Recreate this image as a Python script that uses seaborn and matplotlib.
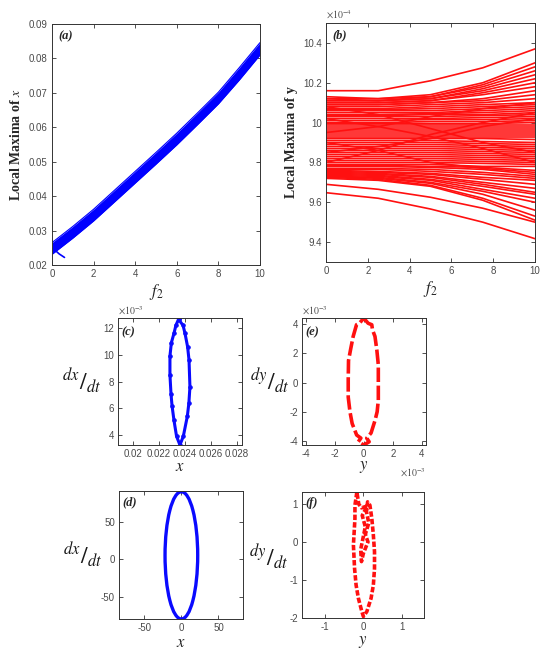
import numpy as np
import pandas as pd
import matplotlib
matplotlib.use("Agg")
import matplotlib.pyplot as plt
from matplotlib.patches import Ellipse
from matplotlib.ticker import FuncFormatter
import seaborn as sns

# (a) band of local maxima of x against f2
f2_a = [0, 1, 2, 3, 4, 5, 6, 7, 8, 9, 10]
a_upper = [0.0265, 0.0312, 0.0362, 0.0417, 0.0472, 0.0527, 0.0583, 0.0642, 0.0702, 0.0773, 0.0846]
a_lower = [0.0231, 0.0278, 0.0328, 0.0383, 0.0438, 0.0493, 0.0549, 0.0608, 0.0668, 0.0737, 0.0810]
a_tail_x = [0.05, 0.35, 0.6]
a_tail_y = [0.0248, 0.0232, 0.0222]

# (b) local maxima of y, one branch per position, read at f2 = 0, 2.5, 5, 7.5, 10 (units 1e-4)
f2_b = [0, 2.5, 5, 7.5, 10]
b_f0 = [10.16, 10.13, 10.12, 10.12, 10.11, 10.11, 10.10, 10.10, 10.09, 10.09,
        10.08, 10.07, 10.065, 10.06, 10.05, 10.04, 10.035, 10.03, 10.02, 10.01,
        10.00, 9.995, 9.99, 9.98, 9.97, 9.96, 9.95, 9.94, 9.93, 9.92,
        9.91, 9.90, 9.89, 9.88, 9.87, 9.86, 9.85, 9.84, 9.83, 9.82,
        9.81, 9.80, 9.79, 9.785, 9.78, 9.77, 9.765, 9.76, 9.755, 9.75,
        9.745, 9.74, 9.735, 9.73, 9.73, 9.725, 9.72, 9.69, 9.648,
        9.80, 10.08, 9.90, 9.95, 10.02, 9.85]
b_f25 = [10.16, 10.12, 10.12, 10.11, 10.11, 10.11, 10.10, 10.10, 10.09, 10.09,
         10.08, 10.07, 10.065, 10.06, 10.05, 10.04, 10.035, 10.03, 10.02, 10.01,
         10.00, 9.995, 9.99, 9.98, 9.97, 9.96, 9.95, 9.94, 9.93, 9.92,
         9.91, 9.90, 9.89, 9.88, 9.87, 9.86, 9.85, 9.84, 9.83, 9.82,
         9.81, 9.80, 9.79, 9.785, 9.78, 9.77, 9.765, 9.755, 9.75, 9.745,
         9.74, 9.735, 9.73, 9.725, 9.72, 9.715, 9.71, 9.665, 9.62,
         9.86, 10.04, 9.86, 9.98, 9.98, 9.88]
b_f5 = [10.21, 10.14, 10.13, 10.13, 10.12, 10.12, 10.11, 10.11, 10.10, 10.10,
        10.09, 10.08, 10.07, 10.06, 10.05, 10.045, 10.04, 10.03, 10.02, 10.015,
        10.005, 9.995, 9.99, 9.98, 9.97, 9.96, 9.95, 9.94, 9.93, 9.92,
        9.91, 9.90, 9.89, 9.88, 9.87, 9.86, 9.85, 9.84, 9.83, 9.82,
        9.81, 9.80, 9.79, 9.78, 9.775, 9.765, 9.755, 9.745, 9.74, 9.73,
        9.725, 9.715, 9.71, 9.70, 9.695, 9.685, 9.68, 9.625, 9.566,
        9.94, 9.97, 9.80, 10.03, 9.93, 9.92]
b_f75 = [10.275, 10.20, 10.19, 10.18, 10.17, 10.16, 10.15, 10.14, 10.12, 10.11,
         10.10, 10.09, 10.08, 10.07, 10.06, 10.05, 10.04, 10.035, 10.025, 10.015,
         10.005, 9.995, 9.99, 9.98, 9.97, 9.96, 9.95, 9.94, 9.93, 9.92,
         9.905, 9.895, 9.885, 9.875, 9.865, 9.855, 9.845, 9.835, 9.825, 9.815,
         9.805, 9.795, 9.78, 9.775, 9.765, 9.75, 9.74, 9.725, 9.715, 9.70,
         9.69, 9.68, 9.665, 9.655, 9.64, 9.62, 9.61, 9.57, 9.50,
         10.00, 9.90, 9.77, 10.07, 9.87, 9.98]
b_f10 = [10.37, 10.30, 10.28, 10.26, 10.24, 10.22, 10.20, 10.18, 10.16, 10.14,
         10.12, 10.10, 10.09, 10.08, 10.07, 10.06, 10.05, 10.04, 10.03, 10.02,
         10.01, 10.00, 9.99, 9.98, 9.97, 9.96, 9.95, 9.94, 9.93, 9.915,
         9.90, 9.89, 9.88, 9.87, 9.86, 9.85, 9.84, 9.83, 9.82, 9.81,
         9.80, 9.79, 9.78, 9.76, 9.74, 9.73, 9.72, 9.71, 9.69, 9.67,
         9.65, 9.64, 9.62, 9.60, 9.56, 9.53, 9.51, 9.50, 9.417,
         10.05, 9.85, 9.75, 10.10, 9.80, 10.02]

# (c) phase portrait x vs dx/dt
c_x = [0.02350, 0.02385, 0.02400, 0.02420, 0.02431, 0.02438, 0.02430, 0.02418, 0.02387, 0.02361,
       0.02335, 0.02315, 0.02300, 0.02292, 0.02284, 0.02284, 0.02295, 0.02315, 0.02330, 0.02350]
c_dx = np.array([12.65, 12.2, 11.6, 10.6, 9.6, 7.6, 6.4, 5.4, 3.9, 3.25,
                 3.9, 5.1, 6.2, 7.1, 8.5, 9.9, 10.9, 11.6, 12.2, 12.65]) * 1e-3

# (d) phase portrait x vs dx/dt (ellipse)
d_center = (0, 5)
d_width = 44
d_height = 170

# (e) phase portrait y vs dy/dt (units 1e-3)
e_y = np.array([0.0, 0.3, 0.55, 0.6, 0.77, 0.9, 1.0, 1.0, 1.0, 0.92, 0.77, 0.5, 0.2, 0.37, 0.0,
                -0.38, -0.2, -0.49, -0.8, -0.95, -1.07, -1.07, -1.05, -0.9, -0.73, -0.6, -0.5, -0.3, 0.0]) * 1e-3
e_dy = np.array([4.40, 4.05, 3.95, 3.6, 3.15, 2.2, 1.2, 0.0, -1.2, -2.0, -2.6, -3.45, -3.8, -4.05, -4.27,
                 -4.05, -3.8, -3.59, -2.8, -2.0, -1.0, 0.2, 1.5, 2.3, 3.15, 3.6, 3.95, 4.05, 4.40]) * 1e-3

# (f) phase portrait y vs dy/dt
f_y = [-0.17, -0.22, -0.22, -0.26, -0.23, -0.19, -0.13, -0.04, 0.0,
       0.09, 0.20, 0.26, 0.29, 0.29, 0.26, 0.22, 0.17, 0.11,
       0.08, 0.14, 0.05, 0.12, 0.0, -0.05, -0.07, 0.05, -0.03, 0.10, -0.05, -0.12, -0.17]
f_dy = [1.32, 0.97, 0.62, -0.08, -0.70, -1.14, -1.49, -1.84, -1.97,
        -1.84, -1.49, -1.14, -0.70, -0.26, 0.18, 0.62, 0.97, 1.06,
        0.8, 0.5, 0.2, 0.0, -0.3, -0.52, -0.2, 0.4, 0.7, 0.95, 0.9, 1.0, 1.32]

sns.set_style("ticks")
plt.rcParams["font.family"] = ["Liberation Sans", "DejaVu Sans"]
plt.rcParams["mathtext.fontset"] = "stix"

W, H = 550, 657
fig = plt.figure(figsize=(5.5, 6.57), dpi=100)


def make_axes(left, top, right, bottom):
    ax = fig.add_axes([left / W, 1 - bottom / H, (right - left) / W, (bottom - top) / H])
    ax.tick_params(direction="in", top=True, right=True, length=3, width=0.6,
                   labelsize=7, color="#333333", labelcolor="#4a4a4a", pad=3)
    for s in ax.spines.values():
        s.set_linewidth(0.7)
        s.set_color("#333333")
    return ax


def panel_tag(ax, tag, y=0.95):
    ax.text(0.03, y, tag, transform=ax.transAxes, ha="left", va="center",
            fontsize=9, fontweight="bold", fontstyle="italic", family="Liberation Serif")


def slash_label(ax, var, x, y):
    # MATLAB-like  d?/dt  label, one text: raised numerator, slash, lowered denominator
    ax.text(x, y, r"${}^{d%s}/{}_{dt}$" % var, transform=ax.transAxes,
            fontsize=17, ha="center", va="center", color="#1a1a1a")


def scaled(k):
    return FuncFormatter(lambda v, p: f"{v * k:g}")


def exp_text(ax, txt, bottom=False):
    if bottom:
        ax.text(1.0, -0.17, txt, transform=ax.transAxes, fontsize=7, color="#4a4a4a",
                ha="right", va="top")
    else:
        ax.text(0.0, 1.01, txt, transform=ax.transAxes, fontsize=7, color="#4a4a4a", va="bottom")


plain = FuncFormatter(lambda v, p: f"{v:g}")
serif = "Liberation Serif"

# ---- (a)
ax = make_axes(52, 24, 260, 265)
ax.fill_between(f2_a, a_lower, a_upper, color="#0000ff", lw=0)
sns.lineplot(x=f2_a, y=a_upper, ax=ax, color="#0000ff", lw=0.8)
sns.lineplot(x=f2_a, y=a_lower, ax=ax, color="#0000ff", lw=0.8)
sns.lineplot(x=a_tail_x, y=a_tail_y, ax=ax, color="#0000ff", lw=1.2, sort=False)
ax.set_xlim(0, 10)
ax.set_ylim(0.02, 0.09)
ax.set_xticks([0, 2, 4, 6, 8, 10])
ax.set_yticks(np.arange(0.02, 0.0901, 0.01))
ax.xaxis.set_major_formatter(plain)
ax.yaxis.set_major_formatter(plain)
ax.set_xlabel(r"$f_2$", fontsize=12, labelpad=2)
ax.set_ylabel(r"Local Maxima of $\mathit{x}$", fontsize=10, fontweight="bold", family=serif, labelpad=4)
panel_tag(ax, "(a)")

# ---- (b)
ax = make_axes(326, 23, 535, 262)
rows = []
for i in range(len(b_f0)):
    vals = (b_f0[i], b_f25[i], b_f5[i], b_f75[i], b_f10[i])
    for f, v in zip(f2_b, vals):
        rows.append({"f2": f, "ymax": v * 1e-4, "branch": i})
df_b = pd.DataFrame(rows)
sns.lineplot(data=df_b, x="f2", y="ymax", units="branch", estimator=None,
             ax=ax, color="#ff1010", lw=1.2, legend=False)
ax.set_xlim(0, 10)
ax.set_ylim(9.3e-4, 10.5e-4)
ax.set_xticks([0, 2, 4, 6, 8, 10])
ax.set_yticks(np.array([9.4, 9.6, 9.8, 10.0, 10.2, 10.4]) * 1e-4)
ax.xaxis.set_major_formatter(plain)
ax.yaxis.set_major_formatter(scaled(1e4))
ax.set_xlabel(r"$f_2$", fontsize=12, labelpad=2)
ax.set_ylabel("Local Maxima of y", fontsize=10, fontweight="bold", family=serif, labelpad=4)
exp_text(ax, r"$\times10^{-4}$")
panel_tag(ax, "(b)")

# ---- (c)
ax = make_axes(118, 318, 242, 445)
sns.lineplot(x=c_x, y=c_dx, ax=ax, sort=False, estimator=None, color="#0a0aff",
             lw=2.2, marker="o", ms=2.5, mec="#0a0aff")
ax.set_xlim(0.01884, 0.02839)
ax.set_ylim(3.25e-3, 12.75e-3)
ax.set_xticks([0.02, 0.022, 0.024, 0.026, 0.028])
ax.set_yticks(np.array([4, 6, 8, 10, 12]) * 1e-3)
ax.xaxis.set_major_formatter(plain)
ax.yaxis.set_major_formatter(scaled(1e3))
ax.set_xlabel(r"$x$", fontsize=12, labelpad=0)
slash_label(ax, "x", -0.29, 0.50)
exp_text(ax, r"$\times10^{-3}$")
panel_tag(ax, "(c)", 0.89)

# ---- (e)
ax = make_axes(302, 318, 426, 445)
sns.lineplot(x=e_y, y=e_dy, ax=ax, sort=False, estimator=None, color="#ff1010",
             lw=2.6, linestyle=(0, (4, 1)))
ax.set_xlim(-4.25e-3, 4.28e-3)
ax.set_ylim(-4.27e-3, 4.41e-3)
ax.set_xticks(np.array([-4, -2, 0, 2, 4]) * 1e-3)
ax.set_yticks(np.array([-4, -2, 0, 2, 4]) * 1e-3)
ax.xaxis.set_major_formatter(scaled(1e3))
ax.yaxis.set_major_formatter(scaled(1e3))
ax.set_xlabel(r"$y$", fontsize=12, labelpad=0)
slash_label(ax, "y", -0.26, 0.50)
exp_text(ax, r"$\times10^{-3}$")
exp_text(ax, r"$\times10^{-3}$", bottom=True)
panel_tag(ax, "(e)", 0.89)

# ---- (d)
ax = make_axes(119, 491, 243, 619)
ax.add_patch(Ellipse(d_center, d_width, d_height, fill=False, ec="#0a0aff", lw=2.4))
ax.set_xlim(-84, 83)
ax.set_ylim(-80, 91)
ax.set_xticks([-50, 0, 50])
ax.set_yticks([-50, 0, 50])
ax.xaxis.set_major_formatter(plain)
ax.yaxis.set_major_formatter(plain)
ax.set_xlabel(r"$x$", fontsize=12, labelpad=1)
slash_label(ax, "x", -0.29, 0.50)
panel_tag(ax, "(d)", 0.91)

# ---- (f)
ax = make_axes(302, 492, 424, 618)
sns.lineplot(x=f_y, y=f_dy, ax=ax, sort=False, estimator=None, color="#ff1010",
             lw=2.6, linestyle=(0, (1.5, 0.6)))
ax.set_xlim(-1.6, 1.58)
ax.set_ylim(-2.01, 1.32)
ax.set_xticks([-1, 0, 1])
ax.set_yticks([-2, -1, 0, 1])
ax.xaxis.set_major_formatter(plain)
ax.yaxis.set_major_formatter(plain)
ax.set_xlabel(r"$y$", fontsize=12, labelpad=1)
slash_label(ax, "y", -0.27, 0.48)
panel_tag(ax, "(f)", 0.91)

fig.savefig("out.png", dpi=100)
